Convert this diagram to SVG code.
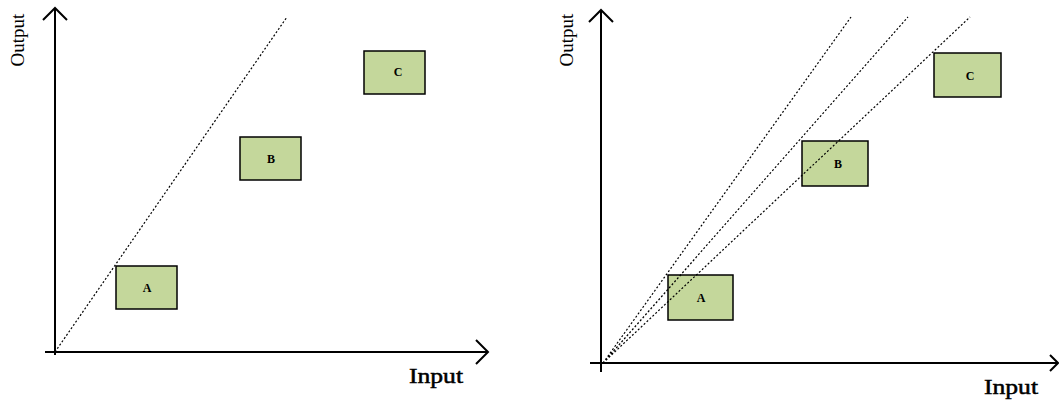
<svg xmlns="http://www.w3.org/2000/svg" width="1059" height="400" viewBox="0 0 1059 400">
<style>
.ax{stroke:#000;stroke-width:2;fill:none}
.dot{stroke:#000;stroke-width:1.2;stroke-dasharray:2 2;fill:none}
.box rect{fill:#c4d79b;stroke:#000;stroke-width:1.5}
.box text{font-family:"Liberation Serif",serif;font-weight:bold;font-size:12px;text-anchor:middle}
.lab{font-family:"Liberation Serif",serif;font-size:19px}
.in{font-family:"Liberation Serif",serif;font-size:21px;stroke:#000;stroke-width:0.5}
</style>
<rect width="1059" height="400" fill="#fff"/>
<g id="A1" class="box"><rect x="116" y="266" width="61" height="43"/><text x="147" y="292">A</text></g>
<g id="B1" class="box"><rect x="240" y="137" width="61" height="43"/><text x="271" y="163">B</text></g>
<g id="C1" class="box"><rect x="364" y="51" width="61" height="43"/><text x="398" y="76">C</text></g>
<g id="A2" class="box"><rect x="668" y="275" width="65" height="45"/><text x="701" y="302">A</text></g>
<g id="B2" class="box"><rect x="802" y="141" width="66" height="45"/><text x="838" y="168">B</text></g>
<g id="C2" class="box"><rect x="934" y="53" width="67" height="44"/><text x="970" y="80">C</text></g>
<g id="connectors">
<path class="ax" d="M55,355 V8 M43,20 L55,8 L67,20"/>
<path class="ax" d="M45,352 H488 M476,340 L488,352 L476,364"/>
<path class="dot" d="M55,352 L287,17"/>
<path class="ax" d="M601,372 V10 M589,22 L601,10 L613,22"/>
<path class="ax" d="M590,363 H1058 M1050,355 L1058,363 L1050,371"/>
<path class="dot" d="M603,363 L851,17 M603,363 L908,17 M603,363 L970,17"/>
</g>
<g id="labels">
<text class="in" x="409" y="383" textLength="54" lengthAdjust="spacingAndGlyphs">Input</text>
<text class="lab" transform="translate(24,40) rotate(-90)" text-anchor="middle">Output</text>
<text class="in" x="984" y="394" textLength="54" lengthAdjust="spacingAndGlyphs">Input</text>
<text class="lab" transform="translate(573,40) rotate(-90)" text-anchor="middle">Output</text>
</g>
</svg>
